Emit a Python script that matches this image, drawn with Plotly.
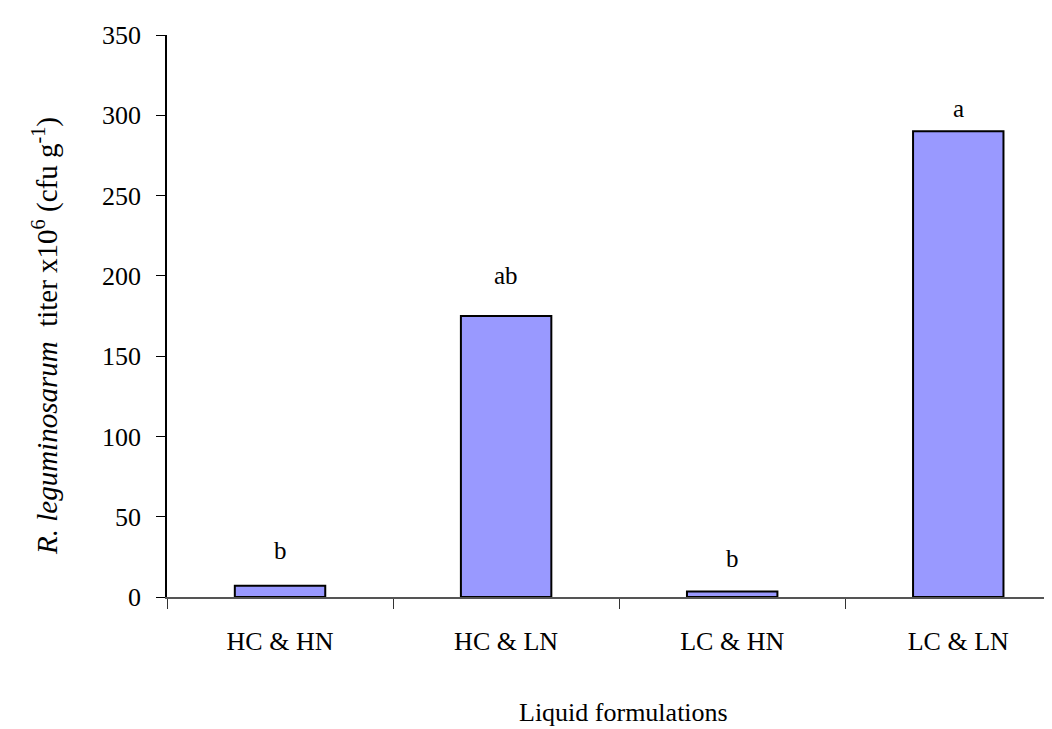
import plotly.graph_objects as go

categories = ["HC & HN", "HC & LN", "LC & HN", "LC & LN"]
titer = [7, 175, 3.5, 290]
letters = ["b", "ab", "b", "a"]
letter_y = [29, 200, 24, 304]
y_ticks = [0, 50, 100, 150, 200, 250, 300, 350]

FONT = "Liberation Serif, Times New Roman, serif"

fig = go.Figure()
fig.add_trace(go.Bar(
    x=categories, y=titer, width=0.4,
    marker=dict(color="#9999FF", line=dict(color="black", width=2)),
    showlegend=False,
))

for c, t, ly in zip(categories, letters, letter_y):
    fig.add_annotation(x=c, y=ly, text=t, showarrow=False,
                       font=dict(family=FONT, size=25, color="black"),
                       xanchor="center", yanchor="middle")

W, H = 1052, 729
L, R, T, B = 159, 0, 27, 140
pw = W - L - R
ph = H - T - B

fig.add_annotation(
    xref="paper", yref="paper",
    x=(37 - L) / pw, y=(H - B - 328) / ph,
    text="<i>R. leguminosarum</i>  titer x10<sup>6</sup> (cfu g<sup>-1</sup>)",
    textangle=-90, showarrow=False,
    font=dict(family=FONT, size=29, color="black"),
    xanchor="center", yanchor="middle",
)
fig.add_annotation(
    xref="paper", yref="paper",
    x=(615 - L) / pw, y=(H - B - 704) / ph,
    text="Liquid formulations", showarrow=False,
    font=dict(family=FONT, size=26, color="black"),
    xanchor="center", yanchor="middle",
)

fig.update_layout(
    width=W, height=H,
    margin=dict(l=L, r=R, t=T, b=B, pad=0),
    plot_bgcolor="white", paper_bgcolor="white",
    font=dict(family=FONT, size=26, color="black"),
    bargap=0.6,
)
fig.update_xaxes(
    type="category", range=[-0.5, 3.45],
    showline=True, linecolor="#555555", linewidth=1.5,
    ticks="outside", tickson="boundaries", ticklen=10, tickcolor="#333333",
    tickwidth=1, showgrid=False, zeroline=False,
    tickfont=dict(family=FONT, size=26, color="black"),
    ticklabelstandoff=20,
)
fig.update_yaxes(
    range=[0, 350], tickvals=y_ticks,
    showline=True, linecolor="black", linewidth=1.5,
    ticks="outside", ticklen=9, tickcolor="black", tickwidth=1,
    showgrid=False, zeroline=False,
    tickfont=dict(family=FONT, size=26, color="black"),
    ticklabelstandoff=10,
)

fig.write_html("out.html")
